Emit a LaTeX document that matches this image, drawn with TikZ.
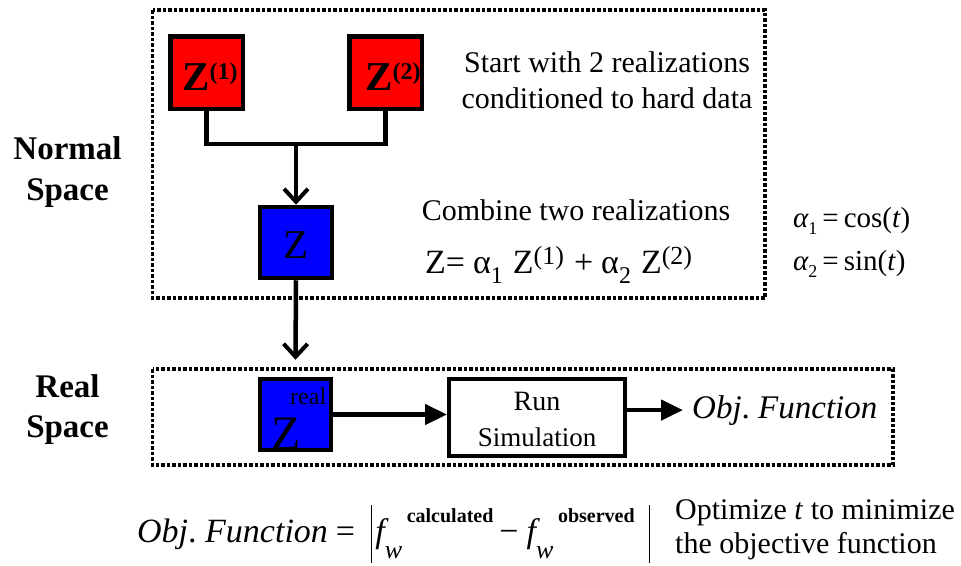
\documentclass[tikz,border=0pt]{standalone}
\usepackage{fontspec}
\usepackage{graphicx}
\setmainfont{Liberation Serif}
\usetikzlibrary{arrows.meta}
\newcommand{\myfs}[1]{\fontsize{#1}{#1}\selectfont}
\begin{document}
\begin{tikzpicture}[x=1pt,y=-1pt,
  dotbox/.style={line width=3.5pt, dash pattern=on 3.5pt off 2pt},
  redbox/.style={draw, line width=4.5pt, fill=red, minimum width=72.5pt, minimum height=72.5pt, inner sep=0pt},
  bluebox/.style={draw, line width=4.5pt, fill=blue, minimum width=72pt, minimum height=71pt, inner sep=0pt},
  simbox/.style={draw, line width=4pt, fill=white, minimum width=176pt, minimum height=77pt, inner sep=0pt},
  txt/.style={inner sep=0pt, anchor=base west},
  ctxt/.style={inner sep=0pt, anchor=base},
  conn/.style={line width=4.5pt},
  vhead/.style={-{Straight Barb[length=13pt, width=24pt, line width=4pt]}},
  thead/.style={-{Triangle[length=22pt, width=20pt]}}
]
\useasboundingbox (0,0) rectangle (961,565);

% dotted frames
\draw[dotbox] (152.5,10) rectangle (765,298);
\draw[dotbox] (152.5,369) rectangle (893,465);

% side labels
\node[ctxt] (ns1) at (67.5,159) {\myfs{33}\bfseries Normal};
\node[ctxt] (ns2) at (67.5,200) {\myfs{33}\bfseries Space};
\node[ctxt] (rs1) at (67.5,397) {\myfs{33}\bfseries Real};
\node[ctxt] (rs2) at (67.5,437) {\myfs{33}\bfseries Space};

% red realizations
\node[redbox] (z1) at (206.5,72.5) {};
\node[redbox] (z2) at (385.5,72.5) {};
\node[txt] (z1t) at (182,90) {\myfs{41}\bfseries Z\raisebox{11pt}{\myfs{24}(1)}};
\node[txt] (z2t) at (365,90) {\myfs{41}\bfseries Z\raisebox{11pt}{\myfs{24}(2)}};

% combined Z
\node[bluebox] (zb) at (296,242.5) {};
\node[txt] (zbt) at (283,258) {\myfs{41}Z};

% real Z
\node[bluebox, minimum width=71pt, minimum height=71pt] (zr) at (295.5,414.5) {};
\node[txt] (zrz) at (271,449) {\myfs{48}Z};
\node[txt] (zrr) at (290,404) {\myfs{24}real};

% simulation
\node[simbox] (run) at (537,417) {};
\node[ctxt] (run1) at (537,410) {\myfs{28}Run};
\node[ctxt] (run2) at (537,446) {\myfs{27}Simulation};

% objective function label
\node[txt] (obj) at (692,418) {\myfs{33}{\itshape Obj}.\ {\itshape Function}};

% connectors
\coordinate (j) at (296,144);
\draw[conn] (z1.south) |- (j) -| (z2.south);
\draw[conn,vhead] (j) -- (zb.north);
\coordinate (zrtop) at ([yshift=17pt]zr.north);
\draw[conn,vhead] (zb.south) -- (zrtop);
\draw[conn,thead] (zr.east) -- (zr.east -| run.west);
\draw[conn,thead] (run.east |- obj.west) -- ([xshift=-9pt]obj.west);

% texts in normal space
\node[ctxt] (st1) at (607,72) {\myfs{30}Start with 2 realizations};
\node[ctxt] (st2) at (607,108) {\myfs{30}conditioned to hard data};
\node[ctxt] (cb) at (576,220) {\myfs{30}Combine two realizations};
\node[txt] (fz) at (425,273) {\myfs{34}Z=\hspace{8pt}α\raisebox{-10pt}{\myfs{24}1}\hspace{10pt}Z\raisebox{9pt}{\myfs{26}(1)}\hspace{10pt}+\hspace{8pt}α\raisebox{-10pt}{\myfs{24}2}\hspace{10pt}Z\raisebox{9pt}{\myfs{26}(2)}};

\node[txt] (a1) at (793,227) {\myfs{29}{\itshape α}\raisebox{-7pt}{\myfs{18}1}\hspace{5pt}=\hspace{5pt}cos(\textit{t})};
\node[txt] (a2) at (793,270) {\myfs{29}{\itshape α}\raisebox{-7pt}{\myfs{18}2}\hspace{5pt}=\hspace{5pt}sin(\textit{t})};

% bottom formula
\node[txt] (objf) at (137,542) {\myfs{34}{\itshape Obj}.\ {\itshape Function}\hspace{8pt}=\hspace{16pt}\rule[-21pt]{1.2pt}{58pt}\hspace{3pt}{\itshape f}\makebox[0pt][l]{\raisebox{-16pt}{\myfs{26}\itshape w}}\hspace{22pt}\raisebox{20pt}{\myfs{20}\bfseries calculated}\hspace{6pt}−\hspace{8pt}{\itshape f}\makebox[0pt][l]{\raisebox{-16pt}{\myfs{26}\itshape w}}\hspace{22pt}\raisebox{20pt}{\myfs{20}\bfseries observed}\hspace{14pt}\rule[-21pt]{1.2pt}{58pt}};

\node[txt] (op1) at (675,519) {\myfs{30}Optimize \textit{t} to minimize};
\node[txt] (op2) at (675,553) {\myfs{30}the objective function};
\end{tikzpicture}
\end{document}
